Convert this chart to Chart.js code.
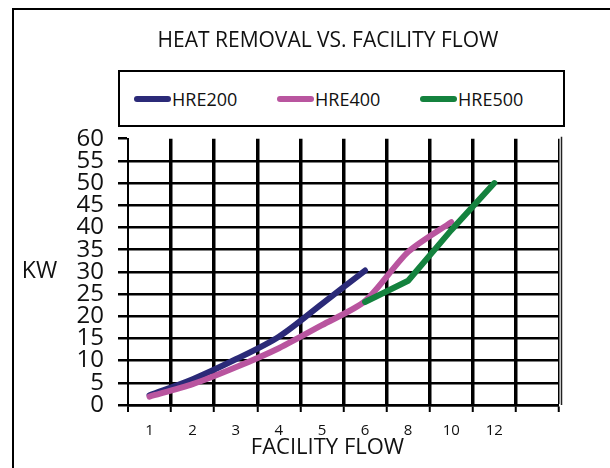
<!DOCTYPE html>
<html lang="en">
<head>
  <meta charset="UTF-8">
  <title>Heat Removal vs. Facility Flow</title>
  <script src="https://cdn.jsdelivr.net/npm/chart.js"></script>
  <style>
    body { margin: 0; width: 610px; height: 468px; overflow: hidden; background: #fff; font-family: "Open Sans", sans-serif; }
    .frame { position: absolute; left: 12px; top: 8px; width: 700px; height: 600px; border: 2px solid #000; }
    #chart { position: absolute; left: 0; top: 0; }
    .title { position: absolute; left: 0; top: 27px; width: 656px; text-align: center; font-size: 21px; line-height: 25px; color: #111; }
    .legend { position: absolute; left: 118px; top: 70px; width: 429px; height: 53px; border: 2px solid #000;
              padding-left: 14px; display: flex; align-items: center; background: #fff; }
    .legend .item { width: 149px; display: flex; align-items: center; }
    .legend .swatch { width: 37px; height: 6px; border-radius: 3px; }
    .legend .txt { font-size: 18px; line-height: 1; margin-left: 1px; color: #111; }
  </style>
</head>
<body>
  <div class="frame"></div>
  <canvas id="chart" width="610" height="468"></canvas>
  <div class="title">HEAT REMOVAL VS. FACILITY FLOW</div>
  <div class="legend" id="legend"></div>

  <script>
    // facility flow categories (last one is an empty slot on the axis)
    const flowLabels = ['1', '2', '3', '4', '5', '6', '8', '10', '12', ''];

    const hre200 = [2.2, 5.8, 10.3, 15.4, 22.8, 30.3, null, null, null, null];
    const hre400 = [1.9, 4.7, 8.5, 12.8, 18.0, 23.4, 34.5, 41.2, null, null];
    const hre500 = [null, null, null, null, null, 23.2, 28.0, 39.4, 50.0, null];

    const seriesNames = ['HRE200', 'HRE400', 'HRE500'];
    const seriesColors = ['#2b2a78', '#b9559f', '#14823e'];

    // html legend in its own box
    const legendEl = document.getElementById('legend');
    seriesNames.forEach((name, i) => {
      legendEl.innerHTML += `<div class="item"><span class="swatch" style="background:${seriesColors[i]}"></span><span class="txt">${name}</span></div>`;
    });

    Chart.defaults.font.family = '"Open Sans", sans-serif';
    Chart.defaults.color = '#111';

    // KW label, x axis title and the right-hand frame line
    const extras = {
      id: 'extras',
      afterDraw(chart) {
        const ctx = chart.ctx;
        const area = chart.chartArea;
        ctx.save();
        ctx.fillStyle = '#111';
        ctx.textAlign = 'center';
        ctx.textBaseline = 'middle';
        ctx.font = '23px "Open Sans"';
        ctx.fillText('KW', 39.5, (area.top + area.bottom) / 2);
        ctx.font = '22px "Open Sans"';
        ctx.fillText('FACILITY FLOW', (area.left + area.right) / 2 - 16, 448);
        ctx.strokeStyle = '#222';
        ctx.lineWidth = 1.5;
        ctx.beginPath();
        ctx.moveTo(area.right + 2.5, area.top - 2);
        ctx.lineTo(area.right + 2.5, area.bottom);
        ctx.stroke();
        ctx.restore();
      }
    };

    const lineStyle = { borderWidth: 6, borderCapStyle: 'round', borderJoinStyle: 'round', pointRadius: 0, fill: false };

    new Chart(document.getElementById('chart'), {
      type: 'line',
      data: {
        labels: flowLabels,
        datasets: [
          { label: seriesNames[0], data: hre200, borderColor: seriesColors[0], tension: 0.3, order: 2, ...lineStyle },
          { label: seriesNames[1], data: hre400, borderColor: seriesColors[1], tension: 0.25, order: 1, ...lineStyle },
          { label: seriesNames[2], data: hre500, borderColor: seriesColors[2], tension: 0, order: 0, ...lineStyle }
        ]
      },
      options: {
        responsive: false,
        animation: false,
        devicePixelRatio: 1,
        layout: { padding: { left: 0, right: 51, top: 138.7, bottom: 0 } },
        plugins: {
          legend: { display: false },
          tooltip: { enabled: false },
          title: { display: false }
        },
        scales: {
          x: {
            offset: true,
            afterFit: s => { s.height = 63; },
            border: { display: true, color: '#000', width: 2.5 },
            grid: {
              offset: true,
              color: '#000',
              lineWidth: c => c.index === 0 ? 0 : (c.index === undefined ? 1.5 : 3.5),
              tickLength: 7,
              tickWidth: 2,
              tickColor: '#000'
            },
            ticks: { font: { size: 15 }, color: '#111', padding: 10, autoSkip: false, maxRotation: 0 }
          },
          y: {
            min: 0,
            max: 60,
            afterFit: s => { s.width = 128; },
            border: { display: true, color: '#000', width: 2 },
            grid: {
              color: c => c.tick && c.tick.value === 60 ? 'rgba(0,0,0,0)' : '#000',
              lineWidth: 2.5,
              tickLength: 10,
              tickWidth: 2.5,
              tickColor: '#000'
            },
            ticks: { stepSize: 5, font: { size: 24 }, color: '#111', padding: 14, autoSkip: false }
          }
        }
      },
      plugins: [extras]
    });
  </script>
</body>
</html>
